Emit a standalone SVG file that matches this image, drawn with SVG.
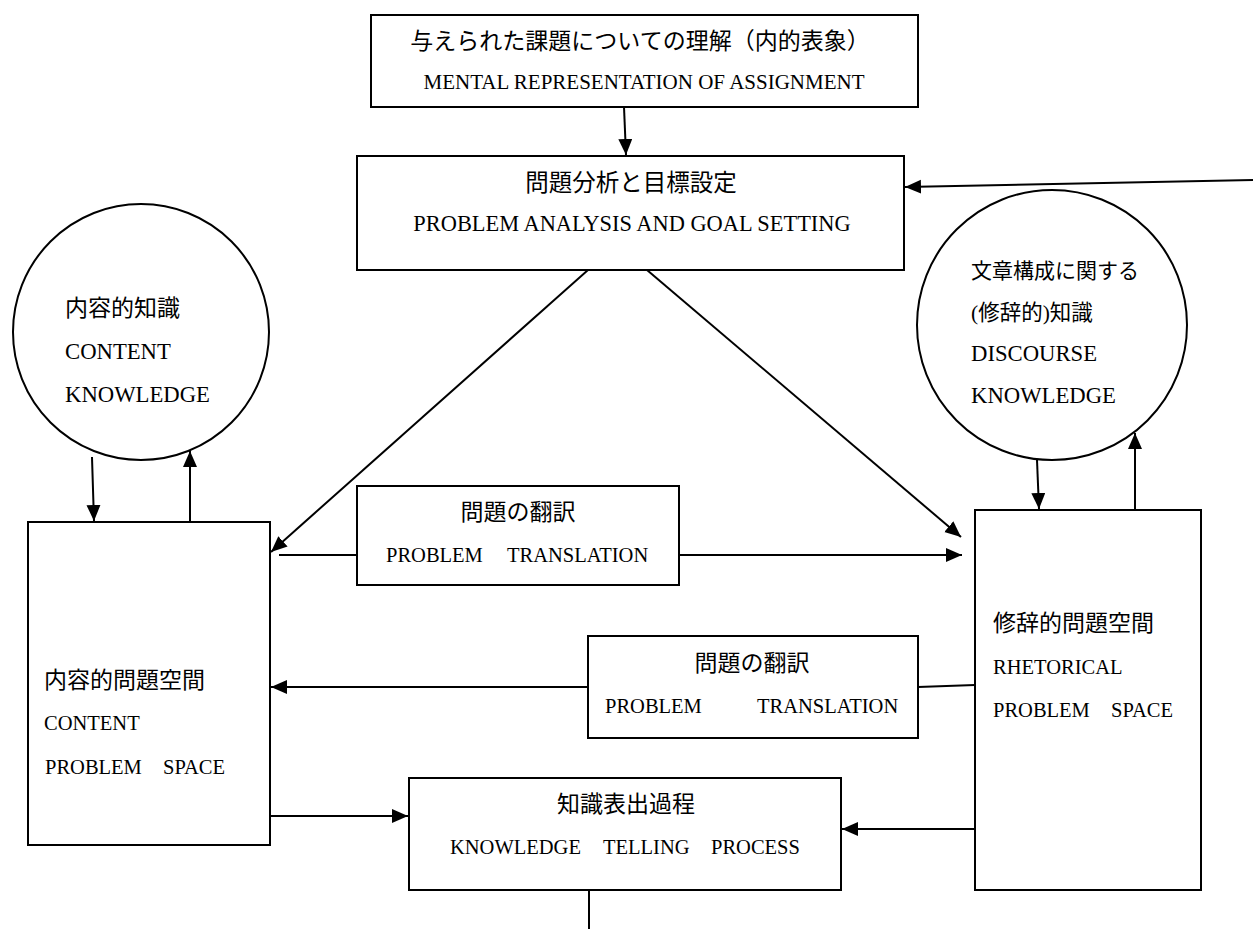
<svg xmlns="http://www.w3.org/2000/svg" width="1253" height="929" viewBox="0 0 1253 929">
<style>
  .box { fill: #fff; stroke: #000; stroke-width: 2; }
  .ell { fill: #fff; stroke: #000; stroke-width: 2; }
  .jp { font-family: "Liberation Serif", "Noto Sans CJK JP", serif; font-size: 23px; fill: #000; }
  .en { font-family: "Liberation Serif", "Times New Roman", serif; font-size: 20.5px; fill: #000; }
  .enc { font-family: "Liberation Serif", "Times New Roman", serif; font-size: 22.7px; fill: #000; }
  .c { text-anchor: middle; }
  .ln { fill: none; stroke: #000; stroke-width: 2; }
  .ar { fill: none; stroke: #000; stroke-width: 2; marker-end: url(#ah); }
</style>
<defs>
  <marker id="ah" markerUnits="userSpaceOnUse" markerWidth="17" markerHeight="15" refX="16" refY="7" orient="auto">
    <path d="M0,0 L16,7 L0,14 z" fill="#000"/>
  </marker>
</defs>
<rect width="1253" height="929" fill="#fff"/>

<g id="connectors">
  <line class="ar" x1="624" y1="107" x2="626" y2="155"/>
  <line class="ar" x1="1253" y1="180" x2="905" y2="187"/>
  <line class="ar" x1="588" y1="270" x2="271" y2="552"/>
  <line class="ar" x1="647" y1="270" x2="961" y2="537"/>
  <line class="ar" x1="92" y1="457" x2="94" y2="521"/>
  <line class="ar" x1="190" y1="521" x2="190" y2="451"/>
  <line class="ln" x1="279" y1="555" x2="357" y2="555"/>
  <line class="ar" x1="679" y1="555" x2="962" y2="555"/>
  <line class="ar" x1="1037" y1="460" x2="1039" y2="509"/>
  <line class="ar" x1="1135" y1="510" x2="1135" y2="433"/>
  <line class="ar" x1="588" y1="687" x2="271" y2="687"/>
  <line class="ln" x1="918" y1="687" x2="975" y2="685"/>
  <line class="ar" x1="270" y1="816" x2="408" y2="816"/>
  <line class="ar" x1="975" y1="829" x2="842" y2="829"/>
  <line class="ln" x1="589" y1="890" x2="589" y2="929"/>
</g>

<g id="assignment">
  <rect class="box" x="371" y="15" width="547" height="92"/>
  <text class="jp c" x="640" y="49">与えられた課題についての理解（内的表象）</text>
  <text class="en c" x="644" y="89" style="font-size:21px">MENTAL REPRESENTATION OF ASSIGNMENT</text>
</g>

<g id="analysis">
  <rect class="box" x="357" y="156" width="547" height="114"/>
  <text class="jp c" x="631" y="191" style="font-size:23.5px">問題分析と目標設定</text>
  <text class="en c" x="632" y="231" style="font-size:22.4px">PROBLEM ANALYSIS AND GOAL SETTING</text>
</g>

<g id="content-knowledge">
  <ellipse class="ell" cx="141" cy="332" rx="128" ry="128"/>
  <text class="jp" x="65" y="316">内容的知識</text>
  <text class="enc" x="65" y="359">CONTENT</text>
  <text class="enc" x="65" y="402">KNOWLEDGE</text>
</g>

<g id="discourse-knowledge">
  <ellipse class="ell" cx="1052" cy="325" rx="135" ry="135"/>
  <text class="jp" x="971" y="278" style="font-size:21px">文章構成に関する</text>
  <text class="jp" x="971" y="320" style="font-size:21.5px">(修辞的)知識</text>
  <text class="enc" x="971" y="361">DISCOURSE</text>
  <text class="enc" x="971" y="403">KNOWLEDGE</text>
</g>

<g id="content-space">
  <rect class="box" x="28" y="522" width="242" height="323"/>
  <text class="jp" x="44" y="688">内容的問題空間</text>
  <text class="en" x="44" y="730">CONTENT</text>
  <text class="en"><tspan x="45" y="774">PROBLEM</tspan> <tspan x="163" y="774">SPACE</tspan></text>
</g>

<g id="rhetorical-space">
  <rect class="box" x="975" y="510" width="226" height="380"/>
  <text class="jp" x="993" y="631">修辞的問題空間</text>
  <text class="en" x="993" y="674">RHETORICAL</text>
  <text class="en"><tspan x="993" y="717">PROBLEM</tspan> <tspan x="1111" y="717">SPACE</tspan></text>
</g>

<g id="translation-1">
  <rect class="box" x="357" y="486" width="322" height="99"/>
  <text class="jp c" x="518" y="520">問題の翻訳</text>
  <text class="en"><tspan x="386" y="562">PROBLEM</tspan> <tspan x="507" y="562">TRANSLATION</tspan></text>
</g>

<g id="translation-2">
  <rect class="box" x="588" y="636" width="330" height="102"/>
  <text class="jp c" x="752" y="671">問題の翻訳</text>
  <text class="en"><tspan x="605" y="713">PROBLEM</tspan> <tspan x="757" y="713">TRANSLATION</tspan></text>
</g>

<g id="knowledge-telling">
  <rect class="box" x="409" y="778" width="432" height="112"/>
  <text class="jp c" x="626" y="812">知識表出過程</text>
  <text class="en"><tspan x="450" y="854">KNOWLEDGE</tspan> <tspan x="603" y="854">TELLING</tspan> <tspan x="711" y="854">PROCESS</tspan></text>
</g>
</svg>
